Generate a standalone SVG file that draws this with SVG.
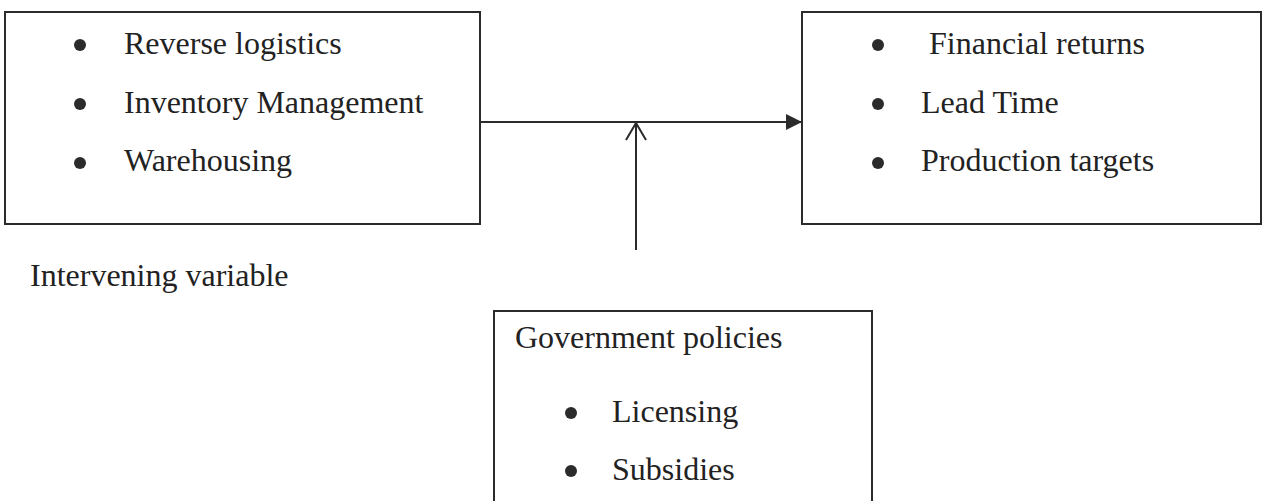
<svg xmlns="http://www.w3.org/2000/svg" width="1263" height="501" viewBox="0 0 1263 501">
<style>
.box{fill:none;stroke:#2b2b2b;stroke-width:2}
.t{font-family:"Liberation Serif","Times New Roman",serif;font-size:32px;fill:#222}
.b{fill:#2b2b2b}
.ln{stroke:#2b2b2b;stroke-width:2;fill:none}
</style>
<defs>
<marker id="fill" markerWidth="18" markerHeight="16" refX="16" refY="8" orient="auto" markerUnits="userSpaceOnUse">
<path d="M0,0 L16,8 L0,16 Z" fill="#2b2b2b"/>
</marker>
</defs>
<rect width="1263" height="501" fill="#fff"/>
<g id="independent">
<rect class="box" x="5" y="12" width="475" height="212"/>
<circle class="b" cx="80" cy="45" r="6"/>
<circle class="b" cx="80" cy="104" r="6"/>
<circle class="b" cx="80" cy="163" r="6"/>
<text class="t" x="124" y="54">Reverse logistics</text>
<text class="t" x="124" y="113">Inventory Management</text>
<text class="t" x="124" y="171">Warehousing</text>
</g>
<g id="dependent">
<rect class="box" x="802" y="12" width="459" height="212"/>
<circle class="b" cx="878" cy="45" r="6"/>
<circle class="b" cx="878" cy="104" r="6"/>
<circle class="b" cx="878" cy="163" r="6"/>
<text class="t" x="929" y="54">Financial returns</text>
<text class="t" x="921" y="113">Lead Time</text>
<text class="t" x="921" y="171">Production targets</text>
</g>
<g id="intervening-label">
<text class="t" x="30" y="286">Intervening variable</text>
</g>
<g id="intervening">
<rect class="box" x="494" y="311" width="378" height="200"/>
<text class="t" x="515" y="348">Government policies</text>
<circle class="b" cx="571" cy="413" r="6"/>
<circle class="b" cx="571" cy="471" r="6"/>
<text class="t" x="612" y="422">Licensing</text>
<text class="t" x="612" y="480">Subsidies</text>
</g>
<g id="connectors">
<line class="ln" x1="480" y1="122" x2="802" y2="122" marker-end="url(#fill)"/>
<line class="ln" x1="636" y1="250" x2="636" y2="123"/>
<path class="ln" d="M626,140 L636,123 L646,140" stroke-width="1.8"/>
</g>
</svg>
